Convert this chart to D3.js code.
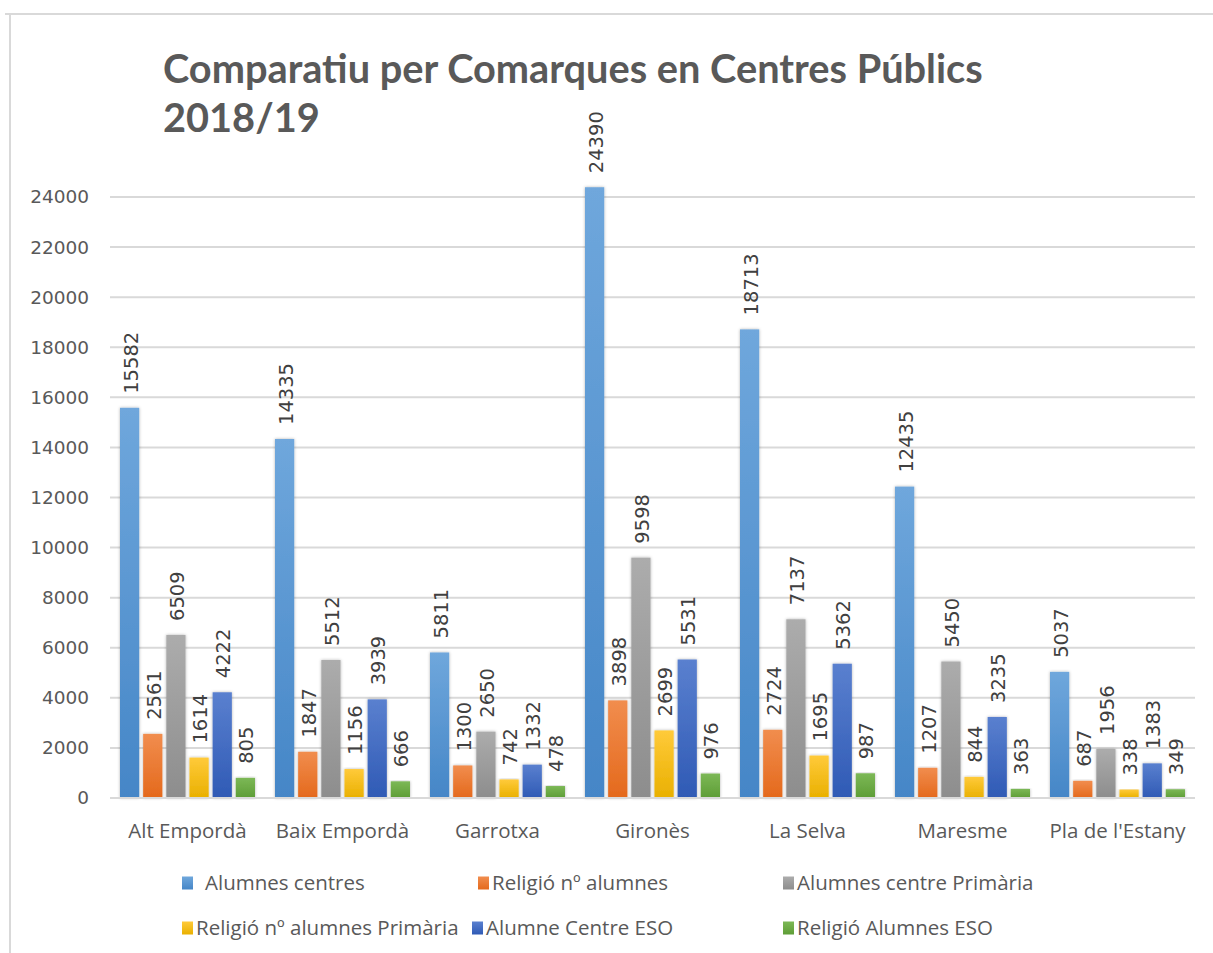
<!DOCTYPE html>
<html>
<head>
<meta charset="utf-8">
<script src="https://cdn.jsdelivr.net/npm/d3@7.9.0/dist/d3.min.js"></script>
<style>
  html, body { margin: 0; padding: 0; background: #fff; }
  svg { display: block; }
</style>
</head>
<body>
<svg id="chart" width="1213" height="953"></svg>
<script>
// data
const comarques = ['Alt Empordà', 'Baix Empordà', 'Garrotxa', 'Gironès', 'La Selva', 'Maresme', "Pla de l'Estany"];
const seriesNames = ['Alumnes centres', 'Religió nº alumnes', 'Alumnes centre Primària',
  'Religió nº alumnes Primària', 'Alumne Centre ESO', 'Religió Alumnes ESO'];
const alumnesCentres = [15582, 14335, 5811, 24390, 18713, 12435, 5037];
const religioAlumnes = [2561, 1847, 1300, 3898, 2724, 1207, 687];
const alumnesPrimaria = [6509, 5512, 2650, 9598, 7137, 5450, 1956];
const religioPrimaria = [1614, 1156, 742, 2699, 1695, 844, 338];
const alumnesESO = [4222, 3939, 1332, 5531, 5362, 3235, 1383];
const religioESO = [805, 666, 478, 976, 987, 363, 349];
const yTicks = [0, 2000, 4000, 6000, 8000, 10000, 12000, 14000, 16000, 18000, 20000, 22000, 24000];

const seriesValues = [alumnesCentres, religioAlumnes, alumnesPrimaria, religioPrimaria, alumnesESO, religioESO];

// excel office palette, light top -> dark bottom
const colors = [
  ['#6fa7dc', '#4586c7'],
  ['#f18d4e', '#e4691c'],
  ['#acacac', '#8d8d8d'],
  ['#ffca3a', '#e9b000'],
  ['#5a80cf', '#2f5ab5'],
  ['#7cb856', '#5e9d36']
];

const svg = d3.select('#chart');
const defs = svg.append('defs');

colors.forEach((c, i) => {
  const g = defs.append('linearGradient').attr('id', 'grad' + i)
    .attr('x1', 0).attr('y1', 0).attr('x2', 0).attr('y2', 1);
  g.append('stop').attr('offset', '0%').attr('stop-color', c[0]);
  g.append('stop').attr('offset', '100%').attr('stop-color', c[1]);
});

const shadow = defs.append('filter').attr('id', 'shadow')
  .attr('x', '-30%').attr('y', '-5%').attr('width', '160%').attr('height', '110%');
shadow.append('feDropShadow').attr('dx', 0).attr('dy', 0).attr('stdDeviation', 1.6)
  .attr('flood-color', '#000').attr('flood-opacity', 0.3);

// outer chart border (only top & left visible in the picture)
svg.append('line').attr('x1', 5).attr('x2', 1213).attr('y1', 14).attr('y2', 14)
  .attr('stroke', '#d9d9d9').attr('stroke-width', 2);
svg.append('line').attr('x1', 10).attr('x2', 10).attr('y1', 14).attr('y2', 953)
  .attr('stroke', '#d9d9d9').attr('stroke-width', 2);

// title - squeezed horizontally to look like the condensed original
const title = svg.append('g').attr('transform', 'translate(163,0)');
const t1 = title.append('text').attr('x', 0).attr('y', 83)
  .text('Comparatiu per Comarques en Centres Públics');
const t2 = title.append('text').attr('x', 0).attr('y', 132).text('2018/19');
title.selectAll('text')
  .attr('font-family', 'Lato, "Open Sans", sans-serif')
  .attr('font-weight', 'bold').attr('font-size', 41).attr('fill', '#595959');
const w = t1.node().getComputedTextLength();
const sx = 820 / w;
title.selectAll('text').attr('transform', `scale(${sx},1)`);

// scales
const x0 = d3.scaleBand().domain(comarques).range([110, 1195]);
const x1 = d3.scaleBand().domain(d3.range(seriesNames.length)).range([10, 145]).paddingInner(0.17);
const y = d3.scaleLinear().domain([0, 24000]).range([798, 197]);

// gridlines
svg.append('g').selectAll('line').data(yTicks).join('line')
  .attr('x1', 110).attr('x2', 1195)
  .attr('y1', d => y(d)).attr('y2', d => y(d))
  .attr('stroke', '#d9d9d9').attr('stroke-width', 2);

// y axis labels
const yAxis = svg.append('g').attr('transform', 'translate(110,0)')
  .call(d3.axisLeft(y).tickValues(yTicks).tickSize(0).tickPadding(21).tickFormat(d3.format('d')));
yAxis.select('.domain').remove();
yAxis.selectAll('text')
  .attr('font-family', '"DejaVu Sans", Verdana, sans-serif')
  .attr('font-size', 18.5).attr('fill', '#595959');

// bars
const groups = svg.append('g').selectAll('g').data(comarques).join('g')
  .attr('transform', d => `translate(${x0(d)},0)`);

groups.each(function (c, ci) {
  const g = d3.select(this);
  const vals = seriesValues.map((s, si) => ({ si, v: s[ci] }));
  g.selectAll('rect').data(vals).join('rect')
    .attr('x', d => x1(d.si))
    .attr('width', x1.bandwidth())
    .attr('y', d => y(d.v))
    .attr('height', d => y(0) - y(d.v))
    .attr('fill', d => `url(#grad${d.si})`)
    .attr('filter', 'url(#shadow)');

  g.selectAll('text.lbl').data(vals).join('text')
    .attr('class', 'lbl')
    .attr('transform', d => `translate(${x1(d.si) + x1.bandwidth() / 2 + 1},${y(d.v) - 14}) rotate(-90)`)
    .attr('dy', '0.36em')
    .attr('font-family', '"DejaVu Sans", Verdana, sans-serif')
    .attr('font-size', 19.5).attr('fill', '#404040')
    .text(d => d.v);
});

// baseline
svg.append('line').attr('x1', 110).attr('x2', 1195).attr('y1', y(0)).attr('y2', y(0))
  .attr('stroke', '#d9d9d9').attr('stroke-width', 2);

// category labels
svg.append('g').selectAll('text').data(comarques).join('text')
  .attr('x', d => x0(d) + x0.bandwidth() / 2)
  .attr('y', 838)
  .attr('text-anchor', 'middle')
  .attr('font-family', '"Open Sans", sans-serif')
  .attr('font-size', 20.5).attr('fill', '#595959')
  .text(d => d);

// legend (two rows, three columns)
const legCols = [182, 478, 783];
const legRows = [883, 928];
const legend = svg.append('g').selectAll('g').data(seriesNames).join('g')
  .attr('transform', (d, i) => `translate(${legCols[i % 3] - (i === 4 ? 6 : 0)},${legRows[Math.floor(i / 3)]})`);
legend.append('rect').attr('x', 0).attr('y', -6.5).attr('width', 11).attr('height', 13)
  .attr('fill', (d, i) => `url(#grad${i})`);
legend.append('text')
  .attr('x', (d, i) => i === 0 ? 23 : 14)
  .attr('dy', '0.35em')
  .attr('font-family', '"Open Sans", sans-serif')
  .attr('font-size', 20.5).attr('fill', '#595959')
  .text(d => d);
</script>
</body>
</html>
